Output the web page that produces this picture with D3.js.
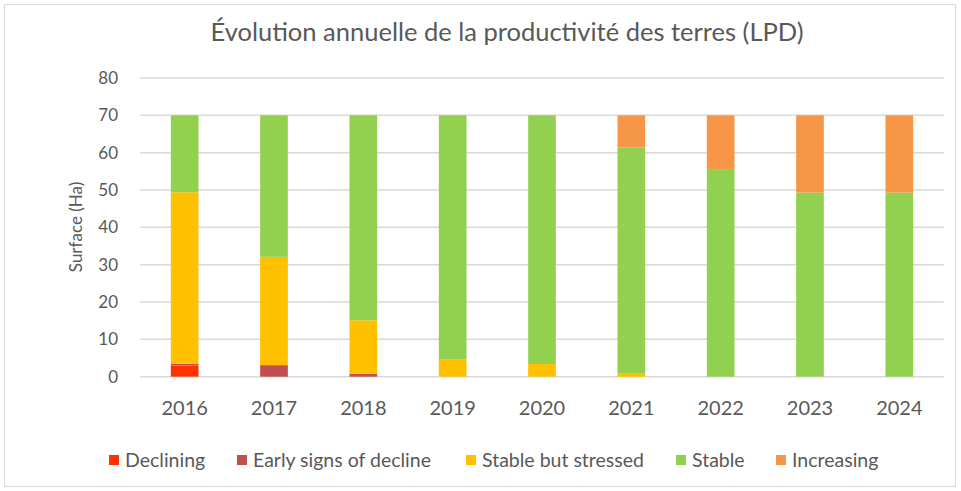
<!DOCTYPE html>
<html>
<head>
<meta charset="utf-8">
<script src="https://cdn.jsdelivr.net/npm/d3@7"></script>
<style>
  body { margin: 0; background: #fff; }
  text { font-family: Lato, "Open Sans", sans-serif; fill: #595959; }
</style>
</head>
<body>
<div id="chart"></div>
<script>
// years on the x axis
const years = ["2016", "2017", "2018", "2019", "2020", "2021", "2022", "2023", "2024"];

// surface (Ha) per class, stacked bottom to top
const declining = [3.0, 0, 0, 0, 0, 0, 0, 0, 0];
const earlySigns = [0.5, 3.1, 0.8, 0, 0, 0, 0, 0, 0];
const stressed = [45.9, 29.0, 14.3, 4.7, 3.4, 0.8, 0, 0, 0];
const stable = [20.6, 37.9, 54.9, 65.3, 66.6, 60.6, 55.4, 49.3, 49.3];
const increasing = [0, 0, 0, 0, 0, 8.6, 14.6, 20.7, 20.7];

const seriesNames = ["Declining", "Early signs of decline", "Stable but stressed", "Stable", "Increasing"];
const seriesColors = ["#FF3300", "#C0504D", "#FFC000", "#92D050", "#F79646"];
const yTicks = [0, 10, 20, 30, 40, 50, 60, 70, 80];

const width = 961, height = 491;
const margin = {top: 78, right: 17, bottom: 114.3, left: 140};

const svg = d3.select("#chart").append("svg")
    .attr("width", width)
    .attr("height", height);

// outer chart border
svg.append("rect")
    .attr("x", 4.5).attr("y", 4.5)
    .attr("width", 951).attr("height", 482)
    .attr("fill", "#fff")
    .attr("stroke", "#d9d9d9");

const rows = years.map((yr, i) => ({
  year: yr,
  "Declining": declining[i],
  "Early signs of decline": earlySigns[i],
  "Stable but stressed": stressed[i],
  "Stable": stable[i],
  "Increasing": increasing[i]
}));

const stack = d3.stack().keys(seriesNames)(rows);

let x = d3.scaleBand()
  .domain(years)
  .range([margin.left, width - margin.right])
  .paddingInner(0.69)
  .paddingOuter(0.345);

let y = d3.scaleLinear()
  .domain([0, 80])
  .range([height - margin.bottom, margin.top]);

let color = d3.scaleOrdinal().domain(seriesNames).range(seriesColors);

// gridlines
svg.append("g")
  .selectAll("line")
  .data(yTicks)
  .join("line")
    .attr("x1", margin.left)
    .attr("x2", width - margin.right)
    .attr("y1", d => y(d))
    .attr("y2", d => y(d))
    .attr("stroke", "#d9d9d9")
    .attr("stroke-width", 1.5);

// y tick labels
svg.append("g")
  .selectAll("text")
  .data(yTicks)
  .join("text")
    .attr("x", 118)
    .attr("y", d => y(d))
    .attr("dy", "0.35em")
    .attr("text-anchor", "end")
    .style("font-size", "17px")
    .text(d => d);

// bars
svg.append("g")
  .selectAll("g")
  .data(stack)
  .join("g")
    .attr("fill", d => color(d.key))
  .selectAll("rect")
  .data(d => d)
  .join("rect")
    .attr("x", d => x(d.data.year))
    .attr("y", d => y(d[1]))
    .attr("width", x.bandwidth())
    .attr("height", d => Math.max(0, y(d[0]) - y(d[1])));

// x labels
svg.append("g")
  .selectAll("text")
  .data(years)
  .join("text")
    .attr("x", d => x(d) + x.bandwidth() / 2)
    .attr("y", 408)
    .attr("dy", "0.35em")
    .attr("text-anchor", "middle")
    .style("font-size", "20px")
    .text(d => d);

// y axis title
svg.append("text")
    .attr("transform", "translate(76,227) rotate(-90)")
    .attr("text-anchor", "middle")
    .attr("dy", "0.35em")
    .style("font-size", "17px")
    .text("Surface (Ha)");

// chart title
svg.append("text")
    .attr("x", 507)
    .attr("y", 32)
    .attr("dy", "0.35em")
    .attr("text-anchor", "middle")
    .style("font-size", "25.5px")
    .text("Évolution annuelle de la productivité des terres (LPD)");

// legend
const legendX = [109, 237, 466, 676, 776];
const legend = svg.append("g")
  .selectAll("g")
  .data(seriesNames)
  .join("g")
    .attr("transform", (d, i) => `translate(${legendX[i]},460)`);

legend.append("rect")
    .attr("x", 0).attr("y", -5)
    .attr("width", 10).attr("height", 10)
    .attr("fill", d => color(d));

legend.append("text")
    .attr("x", 16)
    .attr("dy", "0.35em")
    .style("font-size", "19.5px")
    .text(d => d);
</script>
</body>
</html>
